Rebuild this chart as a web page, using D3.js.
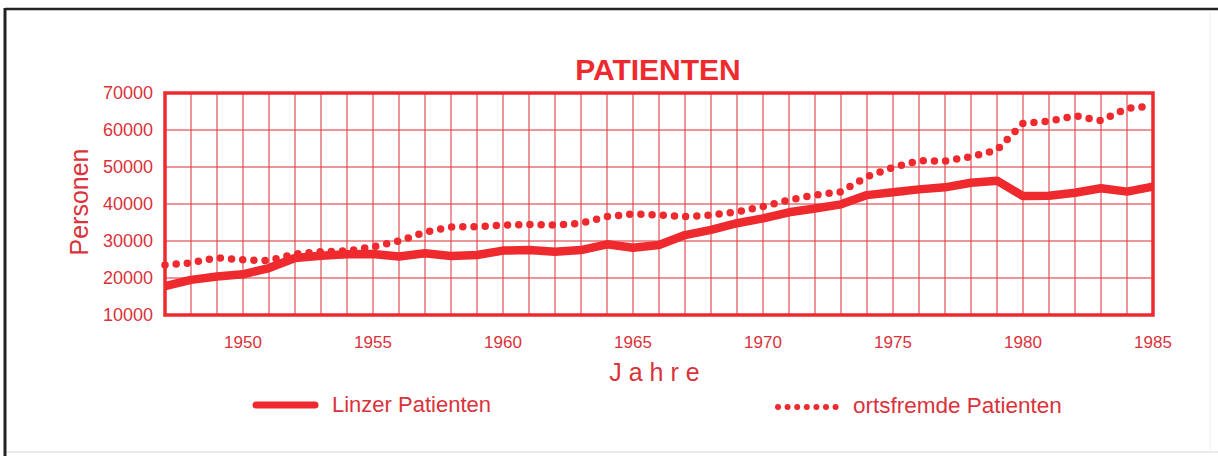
<!DOCTYPE html>
<html>
<head>
<meta charset="utf-8">
<script src="https://cdn.jsdelivr.net/npm/d3@7"></script>
<style>
  body { margin: 0; background: #fff; }
  svg { display: block; font-family: "Liberation Sans", Arial, Helvetica, sans-serif; }
</style>
</head>
<body>
<svg id="chart" width="1218" height="456"></svg>
<script>
// Daten
let jahre = d3.range(1947, 1986);
let linzer = [17800,19500,20400,21000,22700,25400,26000,26400,26500,25800,
              26700,25950,26200,27400,27550,27100,27550,29100,28200,28900,
              31600,33000,34800,36100,37750,38800,39900,42400,43150,43950,
              44500,45750,46300,42150,42250,43050,44250,43350,44700];
let ortsfremde = [23500,24100,25500,24900,24700,26500,27100,27300,28450,30000,
                  32350,33800,33850,34300,34500,34300,34800,36600,37300,37000,
                  36600,37000,37900,39300,41100,42400,43300,47400,49900,51700,
                  51600,52800,54600,61800,62400,63850,62500,65850,66500];
let yTicks = [10000,20000,30000,40000,50000,60000,70000];
let xLabels = [1950,1955,1960,1965,1970,1975,1980,1985];

let rot = "#ee2a2e";
let textRot = "#d9323a";

let svg = d3.select("#chart");
let m = {left:165, right:1153, top:93, bottom:315};

let x = d3.scaleLinear([1947,1985],[m.left,m.right]);
let y = d3.scaleLinear([10000,70000],[m.bottom,m.top]);

// Rahmen des Bildes
svg.append("line").attr("x1",5).attr("x2",1218).attr("y1",9).attr("y2",9)
    .attr("stroke","#222").attr("stroke-width",2.5);
svg.append("line").attr("x1",5).attr("x2",5).attr("y1",8).attr("y2",456)
    .attr("stroke","#222").attr("stroke-width",3);
svg.append("line").attr("x1",7).attr("x2",1218).attr("y1",452).attr("y2",452)
    .attr("stroke","#e4e4e4").attr("stroke-width",1.5);
svg.append("line").attr("x1",1210).attr("x2",1210).attr("y1",12).attr("y2",452)
    .attr("stroke","#eeeeee").attr("stroke-width",1);

// Gitter
svg.append("g")
    .selectAll("line")
    .data(jahre)
    .join("line")
    .attr("x1",d => x(d)).attr("x2",d => x(d))
    .attr("y1",m.top).attr("y2",m.bottom)
    .attr("stroke","#dc2f37").attr("stroke-width",1);

svg.append("g")
    .selectAll("line")
    .data(yTicks)
    .join("line")
    .attr("x1",m.left).attr("x2",m.right)
    .attr("y1",d => y(d)).attr("y2",d => y(d))
    .attr("stroke","#dc2f37").attr("stroke-width",1);

svg.append("rect")
    .attr("x",m.left).attr("y",m.top)
    .attr("width",m.right - m.left).attr("height",m.bottom - m.top)
    .attr("fill","none").attr("stroke",rot).attr("stroke-width",3.5);

// Achsenbeschriftung
svg.append("g")
    .selectAll("text")
    .data(yTicks)
    .join("text")
    .attr("x",153).attr("y",d => y(d))
    .attr("dy","0.35em")
    .attr("text-anchor","end")
    .attr("font-size",18)
    .attr("fill",textRot)
    .text(d => d);

svg.append("g")
    .selectAll("text")
    .data(xLabels)
    .join("text")
    .attr("x",d => x(d)).attr("y",348)
    .attr("text-anchor","middle")
    .attr("font-size",17)
    .attr("fill",textRot)
    .text(d => d);

svg.append("text")
    .attr("transform","translate(88,202) rotate(-90)")
    .attr("text-anchor","middle")
    .attr("font-size",25)
    .attr("fill",textRot)
    .text("Personen");

svg.append("text")
    .attr("x",658).attr("y",381)
    .attr("text-anchor","middle")
    .attr("font-size",25)
    .attr("letter-spacing",7)
    .attr("fill",textRot)
    .text("Jahre");

svg.append("text")
    .attr("x",658).attr("y",80)
    .attr("text-anchor","middle")
    .attr("font-size",30)
    .attr("font-weight","bold")
    .attr("fill",rot)
    .text("PATIENTEN");

// Linien
let linie = d3.line().x((d,i) => x(jahre[i])).y(d => y(d));

svg.append("path")
    .datum(ortsfremde)
    .attr("fill","none")
    .attr("stroke",rot)
    .attr("stroke-width",7.5)
    .attr("stroke-linecap","round")
    .attr("stroke-dasharray","0 11.2")
    .attr("d",linie);

svg.append("path")
    .datum(linzer)
    .attr("fill","none")
    .attr("stroke",rot)
    .attr("stroke-width",8.5)
    .attr("stroke-linejoin","round")
    .attr("d",linie);

// Legende
svg.append("line")
    .attr("x1",256).attr("x2",315).attr("y1",405).attr("y2",405)
    .attr("stroke",rot).attr("stroke-width",7).attr("stroke-linecap","round");
svg.append("text")
    .attr("x",332).attr("y",412)
    .attr("font-size",22)
    .attr("fill",textRot)
    .text("Linzer Patienten");

svg.append("line")
    .attr("x1",778).attr("x2",836).attr("y1",407).attr("y2",407)
    .attr("stroke",rot).attr("stroke-width",6).attr("stroke-linecap","round")
    .attr("stroke-dasharray","0 9.6");
svg.append("text")
    .attr("x",853).attr("y",413)
    .attr("font-size",22.5)
    .attr("fill",textRot)
    .text("ortsfremde Patienten");
</script>
</body>
</html>
